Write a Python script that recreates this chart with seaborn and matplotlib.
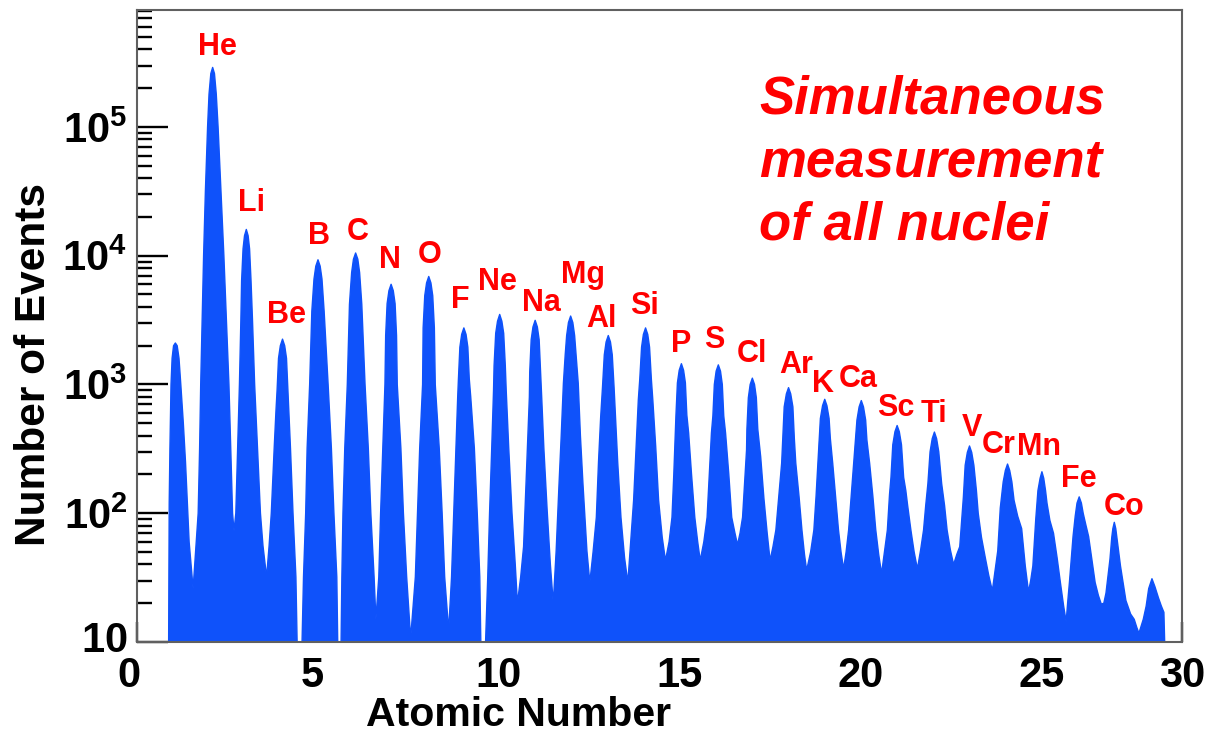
import matplotlib
matplotlib.use("Agg")
import matplotlib.pyplot as plt
import matplotlib.ticker as mticker
from matplotlib.transforms import ScaledTranslation
import seaborn as sns

# Outline of the charge histogram: (atomic number, events).
# Values below 10 only mark where the curve drops under the frame.
outline_z = [
    0.86, 0.88, 0.89, 0.91, 0.94, 0.97, 1.01, 1.06, 1.11, 1.16, 1.21, 1.28, 1.34, 1.44, 1.55,           # H
    1.69, 1.73, 1.76, 1.80, 1.84, 1.89, 1.95, 1.99, 2.04, 2.09, 2.14, 2.19, 2.24, 2.32, 2.40,
    2.47, 2.54, 2.59, 2.64, 2.68,                                                                   # He
    2.73, 2.78, 2.83, 2.87, 2.89, 2.93, 2.97, 3.02, 3.07, 3.11, 3.15, 3.19, 3.25, 3.33, 3.41,
    3.48, 3.58,                                                                                     # Li
    3.65, 3.71, 3.79, 3.84, 3.87, 3.91, 3.96, 4.02, 4.08, 4.13, 4.17, 4.24, 4.31, 4.39, 4.49,           # Be
    4.56, 4.60, 4.66, 4.70, 4.77, 4.83, 4.89, 4.94, 5.00, 5.06, 5.11, 5.17, 5.28, 5.37, 5.44,
    5.52, 5.595,                                                                                    # B
    5.66, 5.69, 5.74, 5.81, 5.87, 5.93, 5.98, 6.04, 6.10, 6.15, 6.21, 6.30, 6.39, 6.46, 6.55, 6.60,     # C
    6.68, 6.73, 6.79, 6.85, 6.87, 6.91, 6.96, 7.02, 7.08, 7.13, 7.17, 7.19, 7.29, 7.36, 7.45, 7.56,     # N
    7.69, 7.75, 7.81, 7.89, 7.905, 7.95, 8.00, 8.06, 8.12, 8.17, 8.215, 8.24, 8.35, 8.43, 8.50, 8.61,   # O
    8.69, 8.75, 8.81, 8.86, 8.88, 8.92, 8.97, 9.03, 9.09, 9.14, 9.18, 9.22, 9.32, 9.40, 9.47, 9.555,    # F
    9.63, 9.69, 9.74, 9.80, 9.85, 9.865, 9.91, 9.96, 10.02, 10.08, 10.13, 10.175, 10.20, 10.27,
    10.36, 10.45, 10.51,                                                                            # Ne
    10.60, 10.68, 10.73, 10.79, 10.84, 10.85, 10.89, 10.94, 11.00, 11.06, 11.11, 11.15, 11.18,
    11.24, 11.33, 11.42, 11.50,                                                                     # Na
    11.58, 11.66, 11.72, 11.78, 11.83, 11.87, 11.92, 11.98, 12.04, 12.09, 12.13, 12.19, 12.25,
    12.32, 12.43, 12.51,                                                                            # Mg
    12.60, 12.69, 12.75, 12.81, 12.86, 12.91, 12.96, 13.02, 13.08, 13.13, 13.18, 13.22, 13.28,
    13.37, 13.47, 13.56,                                                                            # Al
    13.64, 13.72, 13.79, 13.85, 13.89, 13.94, 13.99, 14.05, 14.11, 14.16, 14.21, 14.25, 14.33,
    14.41, 14.51, 14.60,                                                                            # Si
    14.70, 14.78, 14.83, 14.87, 14.89, 14.93, 14.98, 15.04, 15.10, 15.15, 15.19, 15.24, 15.32,
    15.41, 15.49, 15.56,                                                                            # P
    15.66, 15.75, 15.81, 15.87, 15.91, 15.95, 16.00, 16.06, 16.12, 16.17, 16.21, 16.26, 16.35,
    16.43, 16.52, 16.59,                                                                            # S
    16.66, 16.73, 16.79, 16.84, 16.85, 16.89, 16.94, 17.00, 17.06, 17.11, 17.15, 17.23, 17.32,
    17.41, 17.49,                                                                                   # Cl
    17.57, 17.65, 17.73, 17.81, 17.84, 17.88, 17.94, 18.00, 18.06, 18.12, 18.16, 18.20, 18.29,
    18.37, 18.44, 18.50,                                                                            # Ar
    18.61, 18.70, 18.76, 18.81, 18.845, 18.88, 18.94, 19.00, 19.06, 19.12, 19.155, 19.22, 19.30,
    19.38, 19.45, 19.52,                                                                            # K
    19.59, 19.66, 19.73, 19.80, 19.845, 19.89, 19.95, 20.01, 20.07, 20.13, 20.165, 20.24, 20.33,
    20.41, 20.49, 20.57,                                                                            # Ca
    20.65, 20.73, 20.79, 20.83, 20.88, 20.94, 21.00, 21.06, 21.12, 21.18, 21.24, 21.29, 21.38,
    21.47, 21.56,                                                                                   # Sc
    21.65, 21.73, 21.79, 21.85, 21.91, 21.97, 22.03, 22.09, 22.15, 22.23, 22.31, 22.38, 22.47, 22.56,   # Ti
    22.65, 22.73, 22.78, 22.83, 22.88, 22.94, 23.00, 23.06, 23.12, 23.19, 23.24, 23.33, 23.43,
    23.53, 23.63,                                                                                   # V
    23.70, 23.78, 23.85, 23.93, 23.99, 24.05, 24.11, 24.17, 24.23, 24.33, 24.44, 24.54, 24.63,          # Cr
    24.69, 24.75, 24.83, 24.89, 24.95, 25.00, 25.05, 25.10, 25.14, 25.22, 25.32, 25.42, 25.51,
    25.60, 25.67,                                                                                   # Mn
    25.71, 25.76, 25.86, 25.92, 25.97, 26.03, 26.09, 26.14, 26.21, 26.29, 26.38, 26.47, 26.56, 26.64,   # Fe
    26.71, 26.77, 26.88, 26.93, 26.96, 27.00, 27.04, 27.08, 27.17, 27.32, 27.45, 27.55, 27.62, 27.68,   # Co
    27.80, 27.88, 27.95, 28.04, 28.12, 28.22, 28.30, 28.37, 28.40, 28.41,                              # Ni
]
outline_n = [
    1, 32, 120, 320, 1000, 1600, 2000, 2100, 2000, 1600, 1000, 500, 250, 60, 26,
    100, 320, 1000, 3200, 10000, 32000, 100000, 180000, 260000, 290000, 260000, 180000, 100000, 32000, 10000,
    3200, 1000, 320, 100, 73,
    100, 320, 1000, 3200, 6400, 11300, 14300, 16000, 14300, 11300, 6400, 3200, 1000, 320, 100,
    56, 32,
    56, 100, 320, 630, 900, 1600, 2000, 2250, 2000, 1600, 900, 320, 100, 32, 1,
    10, 32, 100, 320, 1000, 3700, 6600, 8300, 9300, 8300, 6600, 3700, 1000, 320, 100,
    32, 1,
    32, 100, 320, 1000, 4200, 7400, 9400, 10500, 9400, 7400, 4200, 1000, 320, 100, 32, 15,
    32, 100, 320, 1000, 2400, 4250, 5350, 6000, 5350, 4250, 2400, 1000, 320, 100, 32, 10.7,
    32, 100, 320, 1000, 2750, 4900, 6150, 6900, 6150, 4900, 2750, 1000, 320, 100, 32, 12.3,
    32, 100, 320, 800, 1100, 1950, 2450, 2750, 2450, 1950, 1100, 800, 320, 100, 32, 1,
    10, 32, 100, 320, 900, 1400, 2500, 3100, 3500, 3100, 2500, 1400, 900, 320,
    100, 40, 20,
    32, 55, 126, 330, 800, 1250, 2230, 2800, 3150, 2800, 2230, 1250, 800,
    320, 107, 40, 20,
    51, 170, 400, 1020, 1700, 2400, 3030, 3400, 3030, 2400, 1700, 1020, 400,
    170, 51, 29,
    50, 93, 250, 560, 950, 1700, 2140, 2400, 2140, 1700, 950, 560, 250,
    93, 45, 29,
    60, 126, 330, 760, 1100, 1950, 2450, 2750, 2450, 1950, 1100, 760, 330,
    126, 65, 43,
    60, 93, 200, 420, 580, 1030, 1290, 1450, 1290, 1030, 580, 420, 200,
    93, 60, 43,
    60, 93, 200, 420, 570, 1000, 1270, 1420, 1270, 1000, 570, 420, 200,
    93, 70, 57,
    70, 93, 180, 310, 450, 790, 1000, 1120, 1000, 790, 450, 275, 130,
    70, 43,
    55, 74, 135, 245, 380, 670, 845, 945, 845, 670, 380, 245, 135,
    74, 48, 36,
    50, 74, 135, 245, 380, 545, 685, 767, 685, 545, 380, 245, 135,
    74, 50, 37,
    50, 74, 135, 245, 370, 530, 670, 750, 670, 530, 370, 245, 135,
    74, 48, 34,
    50, 74, 140, 190, 340, 430, 480, 430, 340, 190, 150, 115, 74,
    50, 37,
    52, 74, 115, 170, 300, 380, 427, 380, 300, 170, 115, 74, 52, 40,
    48, 55, 85, 133, 236, 297, 333, 297, 236, 150, 100, 65, 46,
    33, 25,
    35, 51, 110, 175, 215, 241, 215, 175, 126, 95, 76, 39, 24.5,
    30, 39, 90, 150, 187, 210, 187, 150, 120, 88, 70, 45, 29,
    19, 14.4,
    20, 29, 66, 95, 120, 134, 120, 100, 82, 66, 44, 29, 23, 19.7,
    20, 24, 44, 65, 76, 85, 76, 62, 39, 21, 16.5, 15, 13, 11.7,
    15, 19, 26, 31, 27, 22, 19, 17, 8, 1,
]
assert len(outline_z) == len(outline_n)

# element names and where their labels sit (atomic number, events)
elements = ["He", "Li", "Be", "B", "C", "N", "O", "F", "Ne", "Na", "Mg", "Al", "Si",
            "P", "S", "Cl", "Ar", "K", "Ca", "Sc", "Ti", "V", "Cr", "Mn", "Fe", "Co"]
label_z = [2.21, 3.15, 4.12, 5.03, 6.10, 6.99, 8.09, 8.92, 9.97, 11.16, 12.32, 12.82, 14.01,
           15.03, 15.94, 16.99, 18.20, 18.95, 19.92, 20.97, 22.02, 23.07, 23.81, 24.92, 26.02, 27.27]
label_n = [3.62e5, 2.23e4, 3.0e3, 1.23e4, 1.33e4, 8.0e3, 8.8e3, 3.9e3, 5.4e3, 3.7e3, 6.1e3, 2.8e3, 3.5e3,
           1.79e3, 1.92e3, 1.5e3, 1.23e3, 875, 957, 569, 512, 398, 294, 283, 160, 97]

x_tick_labels = ["0", "5", "10", "15", "20", "25", "30"]
y_ticks = [10, 1e2, 1e3, 1e4, 1e5]
y_tick_labels = [r"$\mathbf{10}$", r"$\mathbf{10^{2}}$", r"$\mathbf{10^{3}}$",
                 r"$\mathbf{10^{4}}$", r"$\mathbf{10^{5}}$"]
note_lines = ["Simultaneous", "measurement", "of all nuclei"]

blue = "#0f52fa"
red = "#ff0000"

sns.set_theme(style="ticks")
plt.rcParams["font.family"] = ["Liberation Sans", "DejaVu Sans"]
plt.rcParams["font.weight"] = "bold"
plt.rcParams["text.color"] = "black"
plt.rcParams["xtick.labelcolor"] = "black"
plt.rcParams["ytick.labelcolor"] = "black"
plt.rcParams["mathtext.fontset"] = "custom"
plt.rcParams["mathtext.rm"] = "Liberation Sans:bold"
plt.rcParams["mathtext.bf"] = "Liberation Sans:bold"
plt.rcParams["mathtext.it"] = "Liberation Sans:italic:bold"

W, H = 1214, 735
fig = plt.figure(figsize=(W / 100, H / 100), dpi=100)
ax = fig.add_axes([137 / W, 93 / H, 1045 / W, 632 / H])

ax.fill_between(outline_z, outline_n, 0.1, color=blue, linewidth=0, zorder=1)
sns.lineplot(x=outline_z, y=outline_n, sort=False, estimator=None, color=blue,
             linewidth=1.0, ax=ax, zorder=1)

ax.set_yscale("log")
x_max = 28.87  # frame ends a little short of 30, the "30" label sits at the frame edge
ax.set_xlim(0, x_max)
ax.set_ylim(10, 8.1e5)

ax.set_xticks([0, 5, 10, 15, 20, 25, x_max])
ax.set_xticklabels(x_tick_labels)
ax.xaxis.set_minor_locator(mticker.MultipleLocator(1))
ax.set_yticks(y_ticks)
ax.set_yticklabels(y_tick_labels)
ax.yaxis.set_minor_locator(mticker.LogLocator(base=10, subs=range(2, 10), numticks=20))
ax.yaxis.set_minor_formatter(mticker.NullFormatter())

ax.tick_params(axis="both", which="both", direction="in", color="black",
               top=False, right=False)
ax.tick_params(axis="x", which="major", length=14.5, width=1.7, pad=10, labelsize=30)
ax.tick_params(axis="x", which="minor", length=7.5, width=1.7)
ax.tick_params(axis="y", which="major", length=22, width=1.7, pad=7, labelsize=30)
ax.tick_params(axis="y", which="minor", length=11, width=1.7)
for s in ax.spines.values():
    s.set_color("#606060")
    s.set_linewidth(1.5)
ax.grid(False)
ax.set_xlabel("")
ax.set_ylabel("")

# small label nudges as in the original: "0" and "5" sit left of their ticks,
# the bottom "10" sits a little above its tick
for lbl, dx in zip(ax.get_xticklabels()[:2], (-8, -6)):
    lbl.set_transform(lbl.get_transform() + ScaledTranslation(dx / 100, 0, fig.dpi_scale_trans))
ylbl = ax.get_yticklabels()[0]
ylbl.set_transform(ylbl.get_transform() + ScaledTranslation(0, 6 / 100, fig.dpi_scale_trans))

for el, z, n in zip(elements, label_z, label_n):
    ax.text(z, n, el, ha="center", va="baseline", color=red, fontsize=22,
            fontweight="bold", zorder=5)

fig.text(518 / W, 1 - 726 / H, "Atomic Number", ha="center", va="baseline",
         fontsize=29.5, fontweight="bold", color="black")
fig.text(45 / W, 1 - 365 / H, "Number of Events", ha="center", va="baseline",
         rotation=90, rotation_mode="anchor", fontsize=30.5, fontweight="bold", color="black")

for i, line in enumerate(note_lines):
    fig.text(759 / W, 1 - (113 + 63.5 * i) / H, line, ha="left", va="baseline",
             fontsize=38, fontweight="bold", style="italic", color=red)

fig.savefig("out.png", dpi=100)
